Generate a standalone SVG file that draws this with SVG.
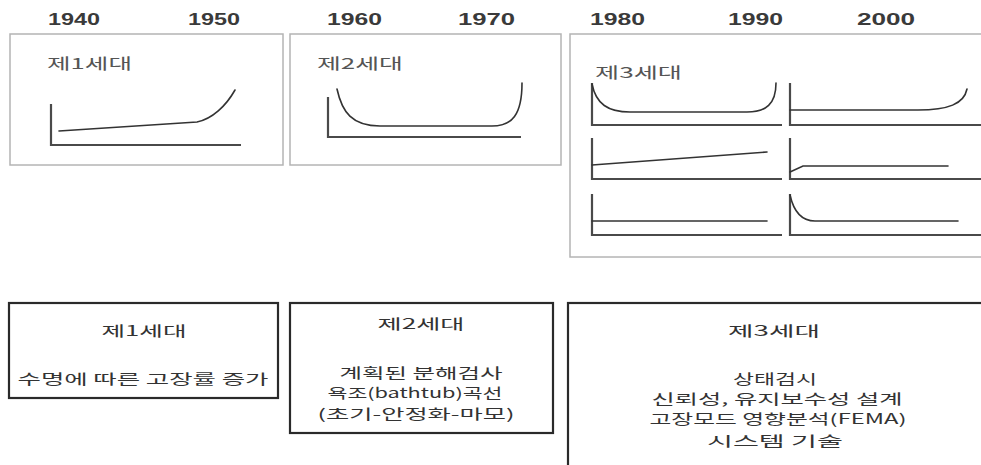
<svg xmlns="http://www.w3.org/2000/svg" width="981" height="465" viewBox="0 0 981 465">
<style>
.bg{fill:#ffffff}
.pane{fill:#ffffff;stroke:#b4b4b4;stroke-width:1.5}
.card{fill:#ffffff;stroke:#2a2a2a;stroke-width:2.2}
.year{font-family:"Liberation Sans",Arial,sans-serif;font-weight:bold;font-size:16px;fill:#3a3a3a}
.lab{font-family:"Noto Sans CJK KR","Liberation Sans",sans-serif;font-size:15px;fill:#555}
.txt{font-family:"Noto Sans CJK KR","Liberation Sans",sans-serif;font-size:14px;fill:#333;text-anchor:middle}
.axis{fill:none;stroke:#4a4a4a;stroke-width:2.2}
.curve{fill:none;stroke:#333;stroke-width:1.6;stroke-linecap:round}
</style>
<rect class="bg" x="0" y="0" width="981" height="465"/>
<g id="years">
<text class="year" x="48" y="25" textLength="52" lengthAdjust="spacingAndGlyphs">1940</text>
<text class="year" x="188" y="25" textLength="52" lengthAdjust="spacingAndGlyphs">1950</text>
<text class="year" x="327" y="25" textLength="55" lengthAdjust="spacingAndGlyphs">1960</text>
<text class="year" x="458" y="25" textLength="57" lengthAdjust="spacingAndGlyphs">1970</text>
<text class="year" x="590" y="25" textLength="55" lengthAdjust="spacingAndGlyphs">1980</text>
<text class="year" x="728" y="25" textLength="55" lengthAdjust="spacingAndGlyphs">1990</text>
<text class="year" x="857" y="25" textLength="58" lengthAdjust="spacingAndGlyphs">2000</text>
</g>
<g id="gen1-chart">
<rect class="pane" x="10" y="34" width="273" height="131"/>
<text class="lab" x="47" y="69" textLength="85" lengthAdjust="spacingAndGlyphs">제1세대</text>
<path class="axis" d="M51,104 V145 H241"/>
<path class="curve" d="M59,131 L197,122 C212,119 226,106 235,90"/>
</g>
<g id="gen2-chart">
<rect class="pane" x="290" y="34" width="271" height="131"/>
<text class="lab" x="317" y="69" textLength="86" lengthAdjust="spacingAndGlyphs">제2세대</text>
<path class="axis" d="M328,97 V137 H521"/>
<path class="curve" d="M337,89 C342,112 352,126 380,126 L492,126 C512,126 522,115 522,83"/>
</g>
<g id="gen3-chart">
<rect class="pane" x="570" y="34" width="420" height="223"/>
<text class="lab" x="595" y="78" textLength="87" lengthAdjust="spacingAndGlyphs">제3세대</text>
<path class="axis" d="M592,83 V125 H782"/>
<path class="curve" d="M592,84 C596,104 608,112 630,112 L747,112 C766,112 776,104 776,83"/>
<path class="axis" d="M790,83 V125 H981"/>
<path class="curve" d="M790,110 L918,110 C948,110 964,104 967,89"/>
<path class="axis" d="M592,138 V179 H782"/>
<path class="curve" d="M592,165 L767,152"/>
<path class="axis" d="M790,138 V179 H981"/>
<path class="curve" d="M790,172 L803,166 L948,166"/>
<path class="axis" d="M592,194 V235 H782"/>
<path class="curve" d="M592,221 L767,221"/>
<path class="axis" d="M790,194 V235 H981"/>
<path class="curve" d="M790,195 C794,213 802,221 815,221 L958,221"/>
</g>
<g id="gen1-card">
<rect class="card" x="9" y="303" width="269" height="95"/>
<text class="txt" x="144" y="336" textLength="85" lengthAdjust="spacingAndGlyphs">제1세대</text>
<text class="txt" x="143" y="384" textLength="251" lengthAdjust="spacingAndGlyphs">수명에 따른 고장률 증가</text>
</g>
<g id="gen2-card">
<rect class="card" x="290" y="303" width="263" height="130"/>
<text class="txt" x="421" y="329" textLength="87" lengthAdjust="spacingAndGlyphs">제2세대</text>
<text class="txt" x="421" y="378" textLength="163" lengthAdjust="spacingAndGlyphs">계획된 분해검사</text>
<text class="txt" x="415" y="398" textLength="175" lengthAdjust="spacingAndGlyphs">욕조(bathtub)곡선</text>
<text class="txt" x="416" y="419" textLength="197" lengthAdjust="spacingAndGlyphs">(초기-안정화-마모)</text>
</g>
<g id="gen3-card">
<rect class="card" x="568" y="303" width="430" height="180"/>
<text class="txt" x="774" y="336" textLength="92" lengthAdjust="spacingAndGlyphs">제3세대</text>
<text class="txt" x="775" y="384" textLength="84" lengthAdjust="spacingAndGlyphs">상태검시</text>
<text class="txt" x="777" y="404" textLength="251" lengthAdjust="spacingAndGlyphs">신뢰성, 유지보수성 설계</text>
<text class="txt" x="778" y="424" textLength="257" lengthAdjust="spacingAndGlyphs">고장모드 영향분석(FEMA)</text>
<text class="txt" x="775" y="446" textLength="136" lengthAdjust="spacingAndGlyphs">시스템 기술</text>
</g>
<g id="connectors"></g>
</svg>
